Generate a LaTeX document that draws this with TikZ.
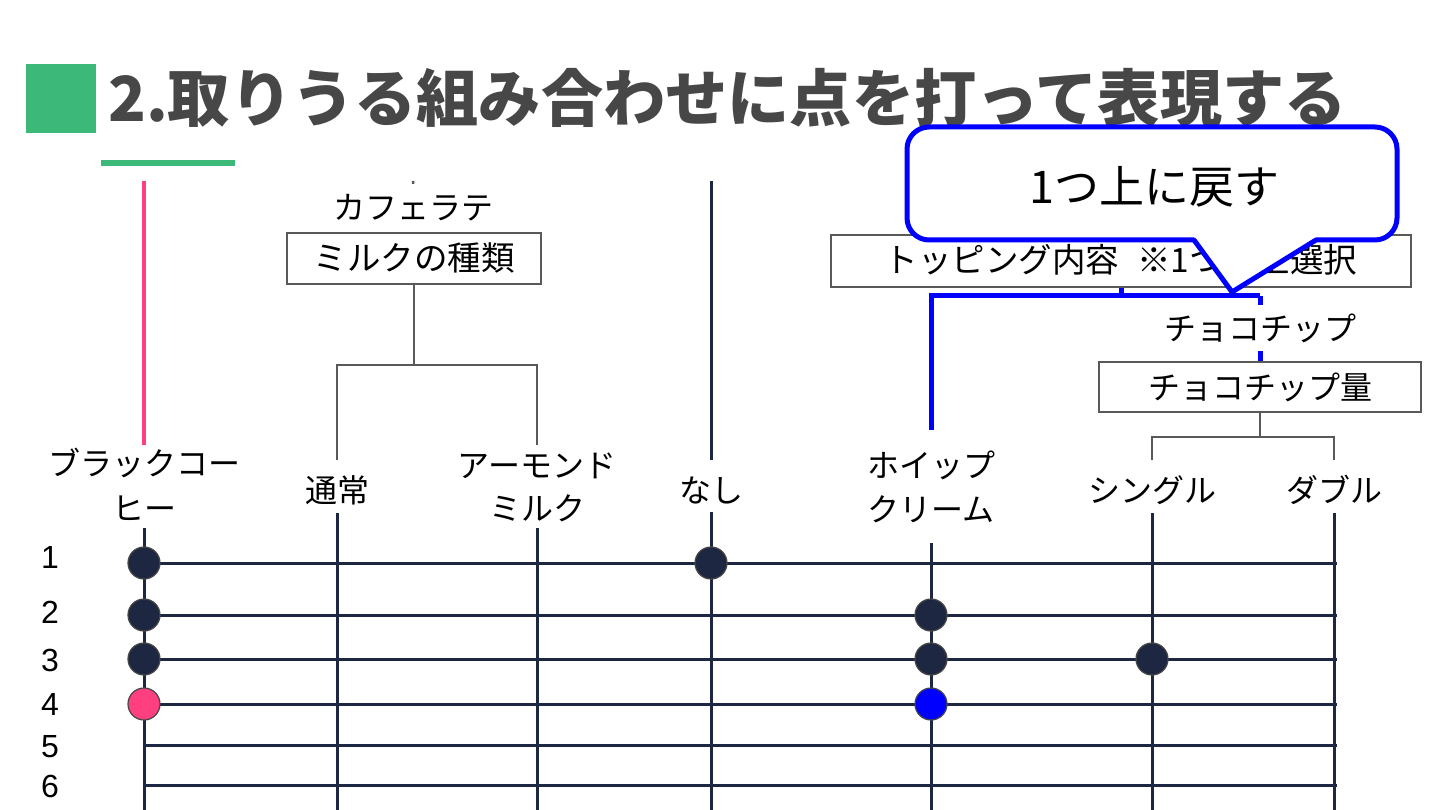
\documentclass[tikz,border=0pt]{standalone}
\usepackage{fontspec}
\setmainfont{Liberation Sans}
\newfontfamily\jp{Noto Sans CJK JP}
\definecolor{hgreen}{HTML}{3CB878}
\definecolor{titlegray}{HTML}{474747}
\definecolor{hpink}{HTML}{FF3F7F}
\definecolor{navy}{HTML}{1E2741}
\definecolor{boxgray}{HTML}{595959}
\definecolor{hblue}{HTML}{0000FF}
\newcommand{\lblfont}{\jp\fontsize{32}{40}\selectfont}
\newcommand{\bigboxfont}{\jp\fontsize{33.5}{40}\selectfont}
\tikzset{
  navyline/.style={draw=navy, line width=3},
  treeline/.style={draw=boxgray, line width=2.5},
  pinkline/.style={draw=hpink, line width=4.5},
  blueline/.style={draw=hblue, line width=5},
  boxnode/.style={draw=boxgray, line width=2.5, fill=white, font=\lblfont, text height=26pt, text depth=2pt, inner sep=0pt},
  lbl/.style={font=\lblfont, anchor=base, inner sep=0pt, text=black},
  cover/.style={lbl, fill=white, inner xsep=2pt, inner ysep=9pt, text height=26pt, text depth=2pt},
  num/.style={font=\fontsize{32}{36}\selectfont, anchor=base, inner sep=0pt, text=black},
  dot/.style={circle, minimum size=32pt, inner sep=0pt, draw=boxgray!80!black, line width=1.2},
}
\begin{document}
\begin{tikzpicture}[x=1pt,y=-1pt]
\useasboundingbox (0,0) rectangle (1440,810);
\fill[white] (0,0) rectangle (1440,810);

% title
\fill[hgreen] (26,64) rectangle (96,133);
\node[anchor=base west, inner sep=0pt, font=\jp\bfseries\fontsize{62.2}{70}\selectfont, text=titlegray] (title) at (108,122) {2.取りうる組み合わせに点を打って表現する};
\fill[hgreen] (101,160) rectangle (235,166);

% grid rows
\foreach \yy in {563,615,659,704,745,785} \draw[navyline] (144,\yy) -- (1337,\yy);
% column bottoms
\foreach \xx/\yy in {144/528, 337/513, 537/528, 711/512, 931/543, 1152/513, 1334/513} \draw[navyline] (\xx,\yy) -- (\xx,810);

% top-level lines
\coordinate (bcTop) at (144,181);
\coordinate (bcEnd) at (144,445);
\draw[pinkline] (bcTop) -- (bcEnd);
\coordinate (nsTop) at (711,181);
\coordinate (nsEnd) at (711,460);
\draw[navyline] (nsTop) -- (nsEnd);
\coordinate (clTop) at (413,181);

% milk box and tree
\node[boxnode, font=\bigboxfont, minimum width=254pt, minimum height=51pt] (milk) at (414,258.5) {ミルクの種類};
\draw[treeline] (clTop) -- (milk.north);
\node[cover, inner ysep=10pt] (cafe) at (413,220) {カフェラテ};
\coordinate (mk) at (414,365);
\coordinate (tsEnd) at (337,460);
\coordinate (amEnd) at (537,445);
\draw[treeline] (milk.south) -- (mk);
\draw[treeline] (tsEnd) -- (337,365) -- (537,365) -- (amEnd);

% topping box
\node[boxnode, font=\bigboxfont, minimum width=580pt, minimum height=52pt] (topping) at (1121,261) {トッピング内容\hspace{18pt}※1つ以上選択};
\coordinate (tj) at (1121,296);
\coordinate (whEnd) at (931,430);
\coordinate (ccTop) at (1260,296);
\draw[blueline] (topping.south) -- (tj);
\draw[blueline] (whEnd) -- (931,296) -- (ccTop);
\node[boxnode, minimum width=322pt, minimum height=50pt] (choco) at (1260,387) {チョコチップ量};
\draw[blueline] (ccTop) -- (choco.north);
\node[cover] (chip) at (1260,340) {チョコチップ};
\coordinate (cj) at (1260,437);
\coordinate (sgEnd) at (1152,460);
\coordinate (dbEnd) at (1334,460);
\draw[treeline] (choco.south) -- (cj);
\draw[treeline] (sgEnd) -- (1152,437) -- (1334,437) -- (dbEnd);

% column labels
\node[lbl] (bc1) at (144,475) {ブラックコー};
\node[lbl] (bc2) at (144,520) {ヒー};
\node[lbl] (ts) at (337,502) {通常};
\node[lbl] (am1) at (537,477) {アーモンド};
\node[lbl] (am2) at (537,520) {ミルク};
\node[lbl] (ns) at (711,502) {なし};
\node[lbl] (wh1) at (931,477) {ホイップ};
\node[lbl] (wh2) at (931,521) {クリーム};
\node[lbl] (sg) at (1152,502) {シングル};
\node[lbl] (db) at (1334,502) {ダブル};

% row numbers
\node[num] (n1) at (50,568) {1};
\node[num] (n2) at (50,623) {2};
\node[num] (n3) at (50,671) {3};
\node[num] (n4) at (50,715) {4};
\node[num] (n5) at (50,757) {5};
\node[num] (n6) at (50,797) {6};

% dots
\foreach \xx/\yy/\nm in {144/563/a, 711/563/b, 144/615/c, 931/615/d, 144/659/e, 931/659/f, 1152/659/g}
  \node[dot, fill=navy] (d\nm) at (\xx,\yy) {};
\node[dot, fill=hpink] (dh) at (144,704) {};
\node[dot, fill=hblue] (dbl) at (931,704) {};

% callout
\draw[draw=hblue, line width=5, fill=white, line join=round]
  (1194,240) -- (1232,292) -- (1316,240) -- (1375,240)
  .. controls (1387.1,240) and (1397,230.1) .. (1397,218) -- (1397,149)
  .. controls (1397,136.9) and (1387.1,127) .. (1375,127) -- (929,127)
  .. controls (916.9,127) and (907,136.9) .. (907,149) -- (907,218)
  .. controls (907,230.1) and (916.9,240) .. (929,240) -- cycle;
\node[anchor=base, inner sep=0pt, font=\jp\fontsize{45}{50}\selectfont] (callout) at (1154,204) {1つ上に戻す};
\end{tikzpicture}
\end{document}
